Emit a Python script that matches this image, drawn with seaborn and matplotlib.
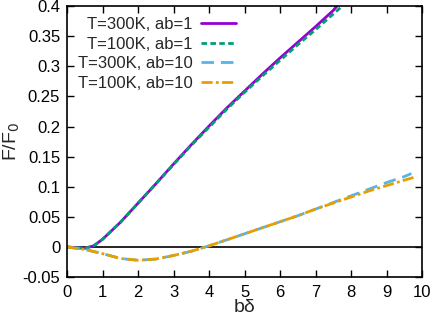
import numpy as np
import pandas as pd
import matplotlib
matplotlib.use("Agg")
import matplotlib.pyplot as plt
import seaborn as sns

# values
x_ab1 = [0, 0.25, 0.5, 0.75, 1, 1.5, 2, 2.5, 3, 3.5, 4, 4.5, 5, 5.5, 6, 6.5, 7, 7.5, 7.6]
y_300_ab1 = [0, -0.001, -0.002, 0.002, 0.013, 0.041, 0.073, 0.105, 0.138, 0.170, 0.201, 0.231, 0.259, 0.287, 0.314, 0.340, 0.366, 0.393, 0.400]
x_100_ab1 = [0, 0.25, 0.5, 0.75, 1, 1.5, 2, 2.5, 3, 3.5, 4, 4.5, 5, 5.5, 6, 6.5, 7, 7.5, 7.75]
y_100_ab1 = [0, -0.001, -0.002, 0.002, 0.013, 0.041, 0.073, 0.105, 0.137, 0.169, 0.199, 0.229, 0.257, 0.284, 0.310, 0.336, 0.361, 0.387, 0.400]

x_300_ab10 = [0, 0.5, 1, 1.5, 2, 2.5, 3, 3.5, 4, 4.5, 5, 5.5, 6, 6.5, 7, 7.5, 8, 8.5, 9, 9.5, 9.7]
y_300_ab10 = [0, -0.004, -0.011, -0.019, -0.022, -0.020, -0.014, -0.007, 0.002, 0.012, 0.022, 0.032, 0.042, 0.052, 0.063, 0.074, 0.085, 0.096, 0.107, 0.117, 0.122]
x_100_ab10 = [0, 0.5, 1, 1.5, 2, 2.5, 3, 3.5, 4, 4.5, 5, 5.5, 6, 6.5, 7, 7.5, 8, 8.5, 9, 9.5, 9.85]
y_100_ab10 = [0, -0.004, -0.011, -0.019, -0.022, -0.020, -0.014, -0.007, 0.002, 0.012, 0.022, 0.032, 0.042, 0.052, 0.063, 0.073, 0.083, 0.093, 0.102, 0.111, 0.117]

labels = ["T=300K, ab=1", "T=100K, ab=1", "T=300K, ab=10", "T=100K, ab=10"]
colors = ["#9400d3", "#009e73", "#56b4e9", "#e69f00"]
dashes = [(None, None), (2.0, 1.2), (4.5, 2.5), (4, 1.2, 1, 1.2)]

sns.set_style("ticks")
plt.rcParams["font.family"] = ["Liberation Sans", "DejaVu Sans"]
plt.rcParams["font.size"] = 12

fig = plt.figure(figsize=(4.36, 3.23), dpi=100)
ax = fig.add_axes([0.154, 0.142, 0.814, 0.839])

ax.axhline(0, color="black", lw=1.2, zorder=1)

series = [(x_ab1, y_300_ab1), (x_100_ab1, y_100_ab1), (x_300_ab10, y_300_ab10), (x_100_ab10, y_100_ab10)]
for (xs, ys), lab, c, d in zip(series, labels, colors, dashes):
    df = pd.DataFrame({"x": xs, "y": ys})
    sns.lineplot(data=df, x="x", y="y", ax=ax, color=c, lw=2, label=lab)
    l = ax.get_lines()[-1]
    if d[0] is not None:
        l.set_dashes(d)

ax.set_xlim(0, 10)
ax.set_ylim(-0.05, 0.4)
ax.set_xticks(range(0, 11))
ax.set_yticks([-0.05, 0, 0.05, 0.1, 0.15, 0.2, 0.25, 0.3, 0.35, 0.4])
ax.set_yticklabels(["-0.05", "0", "0.05", "0.1", "0.15", "0.2", "0.25", "0.3", "0.35", "0.4"])
ax.tick_params(direction="in", top=True, right=True, length=5, width=1, labelsize=12, colors="black", pad=5)
ax.tick_params(axis="x", pad=6)
for s in ax.spines.values():
    s.set_linewidth(1.2)
    s.set_color("black")

ax.set_xlabel("bδ", fontsize=14, labelpad=-1)
ax.set_ylabel("F/F$_0$", fontsize=14, labelpad=0)

leg = ax.legend(loc="upper left", frameon=False, markerfirst=False, fontsize=12,
                handlelength=2.1, labelspacing=0.28, borderaxespad=0.3, handletextpad=0.5,
                borderpad=0.35)

fig.savefig("out.png", dpi=100)
